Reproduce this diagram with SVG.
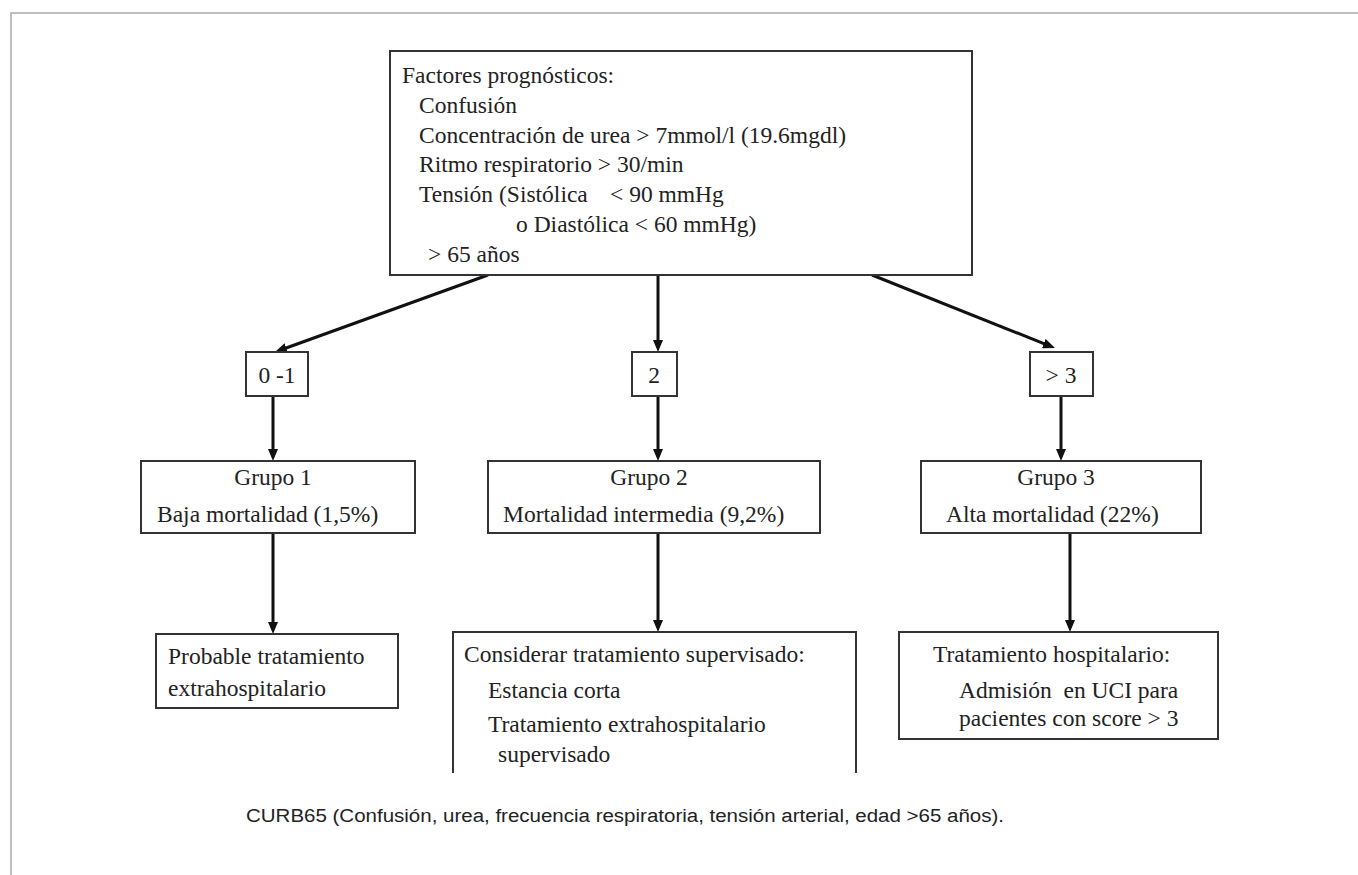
<svg xmlns="http://www.w3.org/2000/svg" width="1358" height="875" viewBox="0 0 1358 875">
<defs>
<style>
.frame{fill:none;stroke:#aaaaaa;stroke-width:1.5}
.box{fill:#ffffff;stroke:#333333;stroke-width:2}
.t{font-family:"Liberation Serif","Times New Roman",serif;font-size:23.5px;fill:#222222}
.c{font-family:"Liberation Sans",Arial,sans-serif;font-size:18px;fill:#222222}
.edge{fill:none;stroke:#111111;stroke-width:3}
</style>
<marker id="ah" markerWidth="12" markerHeight="10" refX="6" refY="5" orient="auto" markerUnits="userSpaceOnUse">
<path d="M0,0 L12,5 L0,10 z" fill="#111111"/>
</marker>
</defs>
<rect width="1358" height="875" fill="#ffffff"/>
<path class="frame" d="M11,875 L11,13 L1358,13"/>

<g id="connectors">
<path class="edge" marker-end="url(#ah)" d="M488,275 L280.6,350"/>
<path class="edge" marker-end="url(#ah)" d="M658,275 L658,346"/>
<path class="edge" marker-end="url(#ah)" d="M872,275 L1049.4,345.8"/>
<path class="edge" marker-end="url(#ah)" d="M273,396 L273,455"/>
<path class="edge" marker-end="url(#ah)" d="M658,396 L658,455"/>
<path class="edge" marker-end="url(#ah)" d="M1061,396 L1061,455"/>
<path class="edge" marker-end="url(#ah)" d="M273,533 L273,628"/>
<path class="edge" marker-end="url(#ah)" d="M658,533 L658,626"/>
<path class="edge" marker-end="url(#ah)" d="M1070,533 L1070,626"/>
</g>

<g id="factores">
<rect class="box" x="390" y="51" width="582" height="224"/>
<text class="t" x="402" y="83">Factores prognósticos:</text>
<text class="t" x="419" y="113">Confusión</text>
<text class="t" x="419" y="143">Concentración de urea &gt; 7mmol/l (19.6mgdl)</text>
<text class="t" x="419" y="172">Ritmo respiratorio &gt; 30/min</text>
<text class="t" y="202"><tspan x="419">Tensión</tspan><tspan x="499">(Sistólica</tspan><tspan x="610">&lt; 90 mmHg</tspan></text>
<text class="t" x="516" y="232">o Diastólica &lt; 60 mmHg)</text>
<text class="t" x="428" y="262">&gt; 65 años</text>
</g>

<g id="score01">
<rect class="box" x="246" y="352" width="62" height="44"/>
<text class="t" x="277" y="383" text-anchor="middle">0 -1</text>
</g>
<g id="score2">
<rect class="box" x="632" y="352" width="45" height="44"/>
<text class="t" x="654" y="383" text-anchor="middle">2</text>
</g>
<g id="score3">
<rect class="box" x="1030" y="352" width="63" height="44"/>
<text class="t" x="1061" y="383" text-anchor="middle">&gt; 3</text>
</g>

<g id="grupo1">
<rect class="box" x="141" y="461" width="274" height="72"/>
<text class="t" x="273" y="485" text-anchor="middle">Grupo 1</text>
<text class="t" x="157" y="522">Baja mortalidad (1,5%)</text>
</g>
<g id="grupo2">
<rect class="box" x="488" y="461" width="332" height="72"/>
<text class="t" x="649" y="485" text-anchor="middle">Grupo 2</text>
<text class="t" x="503" y="522">Mortalidad intermedia (9,2%)</text>
</g>
<g id="grupo3">
<rect class="box" x="921" y="461" width="280" height="72"/>
<text class="t" x="1056" y="485" text-anchor="middle">Grupo 3</text>
<text class="t" x="946" y="522">Alta mortalidad (22%)</text>
</g>

<g id="probable">
<rect class="box" x="156" y="634" width="242" height="74"/>
<text class="t" x="168" y="664">Probable tratamiento</text>
<text class="t" x="168" y="696">extrahospitalario</text>
</g>
<g id="considerar">
<path class="box" d="M453,773 L453,632 L856,632 L856,773"/>
<text class="t" x="464" y="662">Considerar tratamiento supervisado:</text>
<text class="t" x="488" y="698">Estancia corta</text>
<text class="t" x="488" y="732">Tratamiento extrahospitalario</text>
<text class="t" x="498" y="762">supervisado</text>
</g>
<g id="hospitalario">
<rect class="box" x="899" y="632" width="319" height="107"/>
<text class="t" x="933" y="662">Tratamiento hospitalario:</text>
<text class="t" x="959" y="698" xml:space="preserve">Admisión  en UCI para</text>
<text class="t" x="959" y="726">pacientes con score &gt; 3</text>
</g>

<text class="c" x="246" y="822" textLength="758" lengthAdjust="spacingAndGlyphs">CURB65 (Confusión, urea, frecuencia respiratoria, tensión arterial, edad &gt;65 años).</text>
</svg>
